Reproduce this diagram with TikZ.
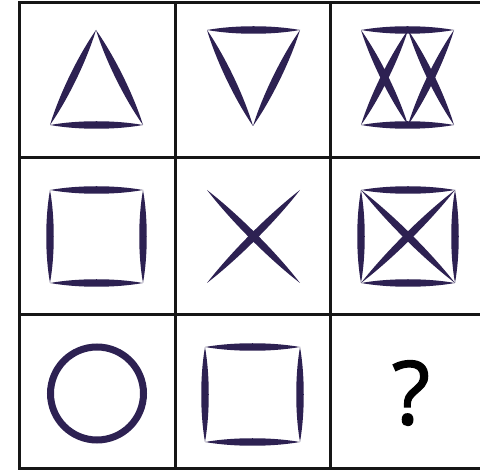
\documentclass[tikz,border=0pt]{standalone}
\usepackage{fontspec}
\setsansfont{Open Sans}
\newfontfamily\askfont[FakeBold=1.6]{Open Sans}
\usetikzlibrary{calc}
\definecolor{glyphink}{RGB}{45,33,82}
\definecolor{gridink}{RGB}{22,22,22}
\tikzset{glyph/.style={fill=glyphink},
         gridline/.style={draw=gridink, line width=3pt, line cap=rect}}
% one stroke of a figure: a thin lens from #2 to #3
\newcommand{\lens}[3][5pt]{%
  \fill[glyph] (#2) .. controls ($(#2)!0.3!(#3)!#1!90:(#3)$) and ($(#2)!0.7!(#3)!#1!90:(#3)$) .. (#3)
    .. controls ($(#2)!0.7!(#3)!#1!-90:(#3)$) and ($(#2)!0.3!(#3)!#1!-90:(#3)$) .. cycle;}

\begin{document}
\begin{tikzpicture}[x=1pt, y=-1pt]
    \useasboundingbox (0,0) rectangle (480,470);
    % grid
    \foreach \y in {3,158,315,469}
      \draw[gridline] (19,\y) -- (481,\y);
    \foreach \x in {19,175,330}
      \draw[gridline] (\x,3) -- (\x,469);
    % row 1
    \coordinate (upA) at (96,30);
    \coordinate (upB) at (50,125);
    \coordinate (upC) at (143,125);
    \foreach \a/\b in {upA/upB, upA/upC, upB/upC}
      \lens{\a}{\b};
    \coordinate (dnA) at (207,30);
    \coordinate (dnB) at (300,30);
    \coordinate (dnC) at (253,126);
    \foreach \a/\b in {dnA/dnB, dnA/dnC, dnB/dnC}
      \lens{\a}{\b};
    \coordinate (xxTL) at (361,30);
    \coordinate (xxTM) at (408,30);
    \coordinate (xxTR) at (454,30);
    \coordinate (xxBL) at (361,125);
    \coordinate (xxBM) at (408,125);
    \coordinate (xxBR) at (454,125);
    \foreach \a/\b in {xxTL/xxTR, xxBL/xxBR, xxTL/xxBM, xxTM/xxBL, xxTM/xxBR, xxTR/xxBM}
      \lens{\a}{\b};
    % row 2
    \coordinate (sqTL) at (50,190);
    \coordinate (sqTR) at (143,190);
    \coordinate (sqBL) at (50,283);
    \coordinate (sqBR) at (143,283);
    \foreach \a/\b in {sqTL/sqTR, sqBL/sqBR, sqTL/sqBL, sqTR/sqBR}
      \lens{\a}{\b};
    \coordinate (crTL) at (207,190);
    \coordinate (crTR) at (300,190);
    \coordinate (crBL) at (207,283);
    \coordinate (crBR) at (300,283);
    \foreach \a/\b in {crTL/crBR, crTR/crBL}
      \lens{\a}{\b};
    \coordinate (bxTL) at (361,190);
    \coordinate (bxTR) at (455,190);
    \coordinate (bxBL) at (361,283);
    \coordinate (bxBR) at (455,283);
    \foreach \a/\b in {bxTL/bxTR, bxBL/bxBR, bxTL/bxBL, bxTR/bxBR, bxTL/bxBR, bxTR/bxBL}
      \lens{\a}{\b};
    % row 3
    \draw[glyphink, line width=7pt] (97,393.5) circle (46.5);
    \coordinate (sbTL) at (205,347);
    \coordinate (sbTR) at (300,347);
    \coordinate (sbBL) at (205,442);
    \coordinate (sbBR) at (300,442);
    \foreach \a/\b in {sbTL/sbTR, sbBL/sbBR, sbTL/sbBL, sbTR/sbBR}
      \lens{\a}{\b};
    \node[font=\askfont\fontsize{88}{88}\selectfont, text=black] (ask) at (411,393) {?};
\end{tikzpicture}
\end{document}
